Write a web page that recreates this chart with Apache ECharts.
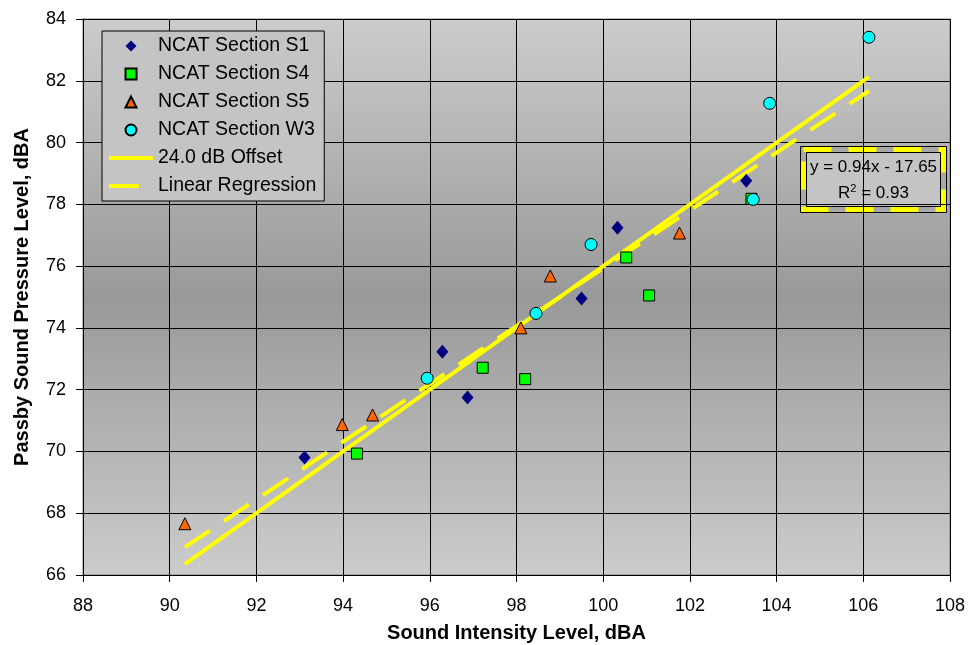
<!DOCTYPE html>
<html>
<head>
<meta charset="utf-8">
<script src="https://cdn.jsdelivr.net/npm/echarts@6/dist/echarts.min.js"></script>
<style>html,body{margin:0;padding:0;background:#fff;}#c{width:969px;height:645px;}</style>
</head>
<body>
<div id="c"></div>
<script>
// Data
var s1 = [[93.11,69.80],[96.29,73.23],[96.87,71.75],[99.50,74.95],[100.33,77.24],[103.30,78.76]];
var s4 = [[94.32,69.93],[97.22,72.71],[98.20,72.34],[100.53,76.28],[101.06,75.05],[103.42,78.18]];
var s5 = [[90.35,67.66],[93.98,70.87],[94.68,71.18],[98.10,74.00],[98.78,75.68],[101.76,77.07]];
var w3 = [[95.94,72.37],[98.45,74.47],[99.72,76.70],[103.46,78.16],[103.84,81.27],[106.13,83.41]];
var offsetLine = [[90.35,66.35],[106.13,82.13]];
var regressionLine = [[90.35,66.90],[106.13,81.67]];
var seriesNames = ['NCAT Section S1','NCAT Section S4','NCAT Section S5','NCAT Section W3','24.0 dB Offset','Linear Regression'];
var xTicks = {min:88, max:108, interval:2};
var yTicks = {min:66, max:84, interval:2};
var equationText = 'y = 0.94x - 17.65';
var r2Text = '0.93';

var chart = echarts.init(document.getElementById('c'), null, {renderer:'canvas'});
var font = '"Liberation Sans", Arial, sans-serif';
var noSym = {color:'rgba(0,0,0,0)',borderColor:'rgba(0,0,0,0)',borderWidth:0};
var option = {
  animation:false,
  backgroundColor:'#ffffff',
  grid:{left:83,right:19,top:19,bottom:70,show:true,borderColor:'#808080',borderWidth:1,
    outerBoundsMode:'none',containLabel:false,
    backgroundColor:{type:'linear',x:0,y:0,x2:0,y2:1,colorStops:[
      {offset:0,color:'#cccccc'},{offset:0.5,color:'#999999'},{offset:1,color:'#cccccc'}]}},
  legend:{orient:'vertical',left:102,top:31,padding:[5,8,5,5],itemGap:8,itemWidth:44,itemHeight:11,
    symbolKeepAspect:true,
    backgroundColor:'#c4c4c4',borderColor:'#000',borderWidth:1,borderRadius:0,
    textStyle:{fontFamily:font,fontSize:19.5,color:'#000',lineHeight:20},
    data:[
      {name:seriesNames[0],icon:'path://M5,0 L10,5 L5,10 L0,5 Z'},
      {name:seriesNames[1],icon:'path://M0,0 L10,0 L10,10 L0,10 Z'},
      {name:seriesNames[2],icon:'path://M5,0 L10,10 L0,10 Z'},
      {name:seriesNames[3],icon:'path://M0,5 A5,5 0 1,1 10,5 A5,5 0 1,1 0,5 Z'},
      {name:seriesNames[4],itemStyle:noSym,lineStyle:{color:'#ffff00',width:4,type:'solid'}},
      {name:seriesNames[5],itemStyle:noSym,lineStyle:{color:'#ffff00',width:4,type:[30,17]}}
    ]},
  xAxis:{type:'value',min:xTicks.min,max:xTicks.max,interval:xTicks.interval,
    name:'Sound Intensity Level, dBA',nameLocation:'middle',nameGap:48,
    nameTextStyle:{fontFamily:font,fontSize:20,fontWeight:'bold',color:'#000'},
    axisLine:{onZero:false,lineStyle:{color:'#000',width:1}},
    axisTick:{show:true,length:7,lineStyle:{color:'#000'}},
    axisLabel:{margin:22,fontFamily:font,fontSize:18,color:'#000'},
    splitLine:{show:true,lineStyle:{color:'#000',width:1}}},
  yAxis:{type:'value',min:yTicks.min,max:yTicks.max,interval:yTicks.interval,
    name:'Passby Sound Pressure Level, dBA',nameLocation:'middle',nameGap:51,
    nameTextStyle:{fontFamily:font,fontSize:20,fontWeight:'bold',color:'#000'},
    axisLine:{onZero:false,lineStyle:{color:'#000',width:1}},
    axisTick:{show:true,length:7,lineStyle:{color:'#000'}},
    axisLabel:{margin:17,fontFamily:font,fontSize:18,color:'#000'},
    splitLine:{show:true,lineStyle:{color:'#000',width:1}}},
  series:[
    {name:seriesNames[4],type:'line',data:offsetLine,symbol:'none',showSymbol:false,z:2,
      lineStyle:{color:'#ffff00',width:4},itemStyle:{color:'#ffff00'}},
    {name:seriesNames[5],type:'line',data:regressionLine,symbol:'none',showSymbol:false,z:2,
      lineStyle:{color:'#ffff00',width:4,type:[30,17]},itemStyle:{color:'#ffff00'}},
    {name:seriesNames[0],type:'scatter',data:s1,symbol:'diamond',symbolSize:[12,14],z:3,
      itemStyle:{color:'#000080',opacity:1}},
    {name:seriesNames[1],type:'scatter',data:s4,symbol:'rect',symbolSize:11,z:3,
      itemStyle:{color:'#00ff00',borderColor:'#000',borderWidth:1,opacity:1}},
    {name:seriesNames[2],type:'scatter',data:s5,symbol:'triangle',symbolSize:12,z:3,
      itemStyle:{color:'#ff6600',borderColor:'#000',borderWidth:1,opacity:1}},
    {name:seriesNames[3],type:'scatter',data:w3,symbol:'circle',symbolSize:12,z:3,
      itemStyle:{color:'#00ffff',borderColor:'#000',borderWidth:1,opacity:1}}
  ],
  graphic:[
    {type:'group',left:800,top:146,z:100,children:[
      {type:'rect',shape:{x:0.5,y:0.5,width:146,height:66},style:{fill:'#c4c4c4',stroke:'#000',lineWidth:1}},
      {type:'rect',shape:{x:3.5,y:3.5,width:140,height:60},style:{fill:'none',stroke:'#a8a8a8',lineWidth:5}},
      {type:'rect',shape:{x:3.5,y:3.5,width:140,height:60},style:{fill:'none',stroke:'#ffff00',lineWidth:5,lineDash:[28,17]}},
      {type:'rect',shape:{x:6.5,y:6.5,width:134,height:54},style:{fill:'none',stroke:'#000',lineWidth:1}},
      {type:'text',x:73.5,y:21,style:{text:equationText,fill:'#000',font:'17px '+font,textAlign:'center',textVerticalAlign:'middle'}},
      {type:'text',x:73.5,y:47,style:{text:'R{sup|2} = '+r2Text,fill:'#000',font:'17px '+font,textAlign:'center',textVerticalAlign:'middle',
        rich:{sup:{fontSize:11,fontFamily:font,verticalAlign:'top',padding:[0,0,8,0]}}}}
    ]}
  ]
};
chart.setOption(option);
</script>
</body>
</html>
